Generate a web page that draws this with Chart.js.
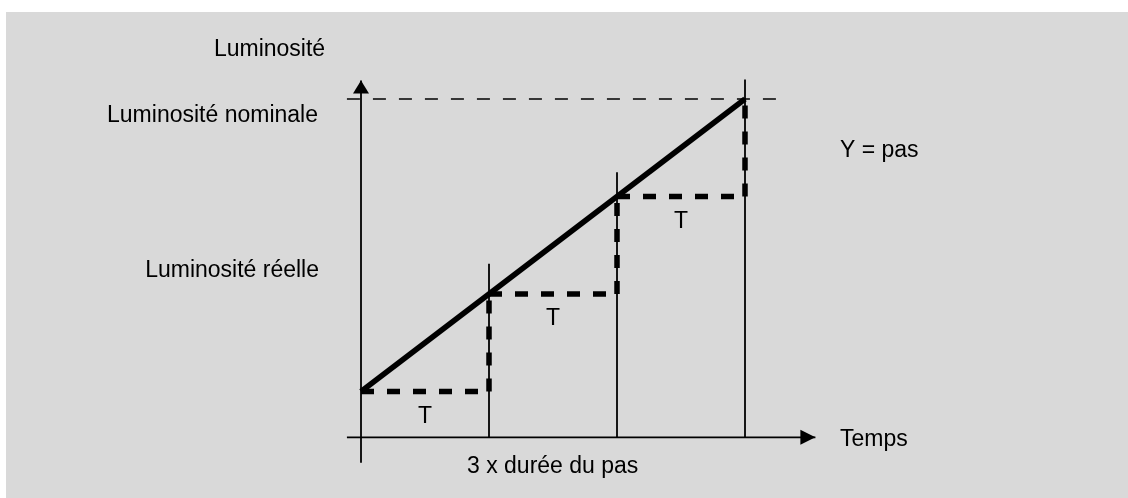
<!DOCTYPE html>
<html>
<head>
<meta charset="utf-8">
<script src="https://cdn.jsdelivr.net/npm/chart.js@4"></script>
<style>
  html, body { margin: 0; padding: 0; background: #ffffff; }
  #wrap { width: 1128px; height: 498px; }
</style>
</head>
<body>
<div id="wrap"><canvas id="c" width="1128" height="498"></canvas></div>
<script>
// ---- data (time in step durations, brightness in step levels) ----
const stepTimes = [0, 1, 2, 3];
const stepLevels = [0, 1, 2, 3];
const rampTimes = [0, 3];
const rampLevels = [0, 3];
const nominalLevel = 3;
const markerTimes = [1, 2, 3];
const markerTops = [1.31, 2.25, 3.2];
const stepLabel = 'T';
const axisLabels = ['Luminosité', 'Luminosité nominale', 'Luminosité réelle', 'Y = pas', 'Temps', '3 x durée du pas'];

// ---- geometry helpers in data units ----
const xAxisLevel = -0.47;
const yAxisBottom = -0.73;
const yAxisTop = 3.19;
const xAxisLeft = -0.11;
const xAxisRight = 3.55;
const nominalRight = 3.29;

const black = '#000000';
const datasets = [];

// staircase: each segment dashed separately
for (let i = 0; i < stepTimes.length - 1; i++) {
  datasets.push({
    data: [{x: stepTimes[i], y: stepLevels[i]}, {x: stepTimes[i + 1], y: stepLevels[i]}],
    borderColor: black, borderWidth: 5.5, borderDash: [13, 13], borderCapStyle: 'butt'
  });
  datasets.push({
    data: [{x: stepTimes[i + 1], y: stepLevels[i]}, {x: stepTimes[i + 1], y: stepLevels[i + 1]}],
    borderColor: black, borderWidth: 5.5, borderDash: [13, 13], borderCapStyle: 'butt'
  });
}
// ramp
datasets.push({
  data: rampTimes.map((t, i) => ({x: t, y: rampLevels[i]})),
  borderColor: black, borderWidth: 5.5, borderCapStyle: 'butt'
});
// nominal dashed line
datasets.push({
  data: [{x: xAxisLeft, y: nominalLevel}, {x: nominalRight, y: nominalLevel}],
  borderColor: black, borderWidth: 1.7, borderDash: [13, 13]
});
// thin step markers
markerTimes.forEach((t, i) => {
  datasets.push({
    data: [{x: t, y: xAxisLevel}, {x: t, y: markerTops[i]}],
    borderColor: black, borderWidth: 1.8
  });
});
// axes
datasets.push({
  data: [{x: xAxisLeft, y: xAxisLevel}, {x: xAxisRight, y: xAxisLevel}],
  borderColor: black, borderWidth: 1.8
});
datasets.push({
  data: [{x: 0, y: yAxisBottom}, {x: 0, y: yAxisTop}],
  borderColor: black, borderWidth: 1.8
});
datasets.forEach(d => { d.showLine = true; d.pointRadius = 0; d.pointHoverRadius = 0; d.fill = false; d.tension = 0; });

const FONT = '23px "Liberation Sans", Arial, sans-serif';
const textItems = [
  {text: axisLabels[0], x: -0.28, y: 3.44, align: 'right'},
  {text: axisLabels[1], x: -0.336, y: 2.764, align: 'right'},
  {text: axisLabels[2], x: -0.328, y: 1.174, align: 'right'},
  {text: axisLabels[3], x: 3.742, y: 2.41, align: 'left'},
  {text: axisLabels[4], x: 3.742, y: -0.559, align: 'left'},
  {text: axisLabels[5], x: 0.828, y: -0.836, align: 'left'}
];
for (let i = 0; i < stepTimes.length - 1; i++) {
  textItems.push({text: stepLabel, x: stepTimes[i] + 0.5, y: stepLevels[i] - 0.32, align: 'center'});
}

const bgPlugin = {
  id: 'bg',
  beforeDraw(chart) {
    const ctx = chart.ctx;
    ctx.save();
    ctx.fillStyle = '#ffffff';
    ctx.fillRect(0, 0, chart.width, chart.height);
    ctx.fillStyle = '#d9d9d9';
    ctx.fillRect(6, 12, chart.width - 6, chart.height - 12);
    ctx.restore();
  }
};

const decoPlugin = {
  id: 'deco',
  afterDatasetsDraw(chart) {
    const ctx = chart.ctx;
    const xs = chart.scales.x, ys = chart.scales.y;
    ctx.save();
    ctx.fillStyle = black;
    // y axis arrow
    const yx = xs.getPixelForValue(0), yt = ys.getPixelForValue(yAxisTop);
    ctx.beginPath();
    ctx.moveTo(yx, yt);
    ctx.lineTo(yx - 8, yt + 13);
    ctx.lineTo(yx + 8, yt + 13);
    ctx.closePath();
    ctx.fill();
    // x axis arrow
    const xr = xs.getPixelForValue(xAxisRight), xy = ys.getPixelForValue(xAxisLevel);
    ctx.beginPath();
    ctx.moveTo(xr, xy);
    ctx.lineTo(xr - 15, xy - 7.5);
    ctx.lineTo(xr - 15, xy + 7.5);
    ctx.closePath();
    ctx.fill();
    // texts
    ctx.font = FONT;
    ctx.textBaseline = 'alphabetic';
    textItems.forEach(t => {
      ctx.textAlign = t.align;
      ctx.fillText(t.text, xs.getPixelForValue(t.x), ys.getPixelForValue(t.y));
    });
    ctx.restore();
  }
};

new Chart(document.getElementById('c'), {
  type: 'scatter',
  data: {datasets},
  options: {
    responsive: false,
    animation: false,
    events: [],
    layout: {padding: {left: 105, right: 127, top: 50.25, bottom: 9}},
    plugins: {legend: {display: false}, tooltip: {enabled: false}, title: {display: false}},
    scales: {
      x: {type: 'linear', min: -2, max: 5, display: false},
      y: {type: 'linear', min: -1, max: 3.5, display: false}
    }
  },
  plugins: [bgPlugin, decoPlugin]
});
</script>
</body>
</html>
